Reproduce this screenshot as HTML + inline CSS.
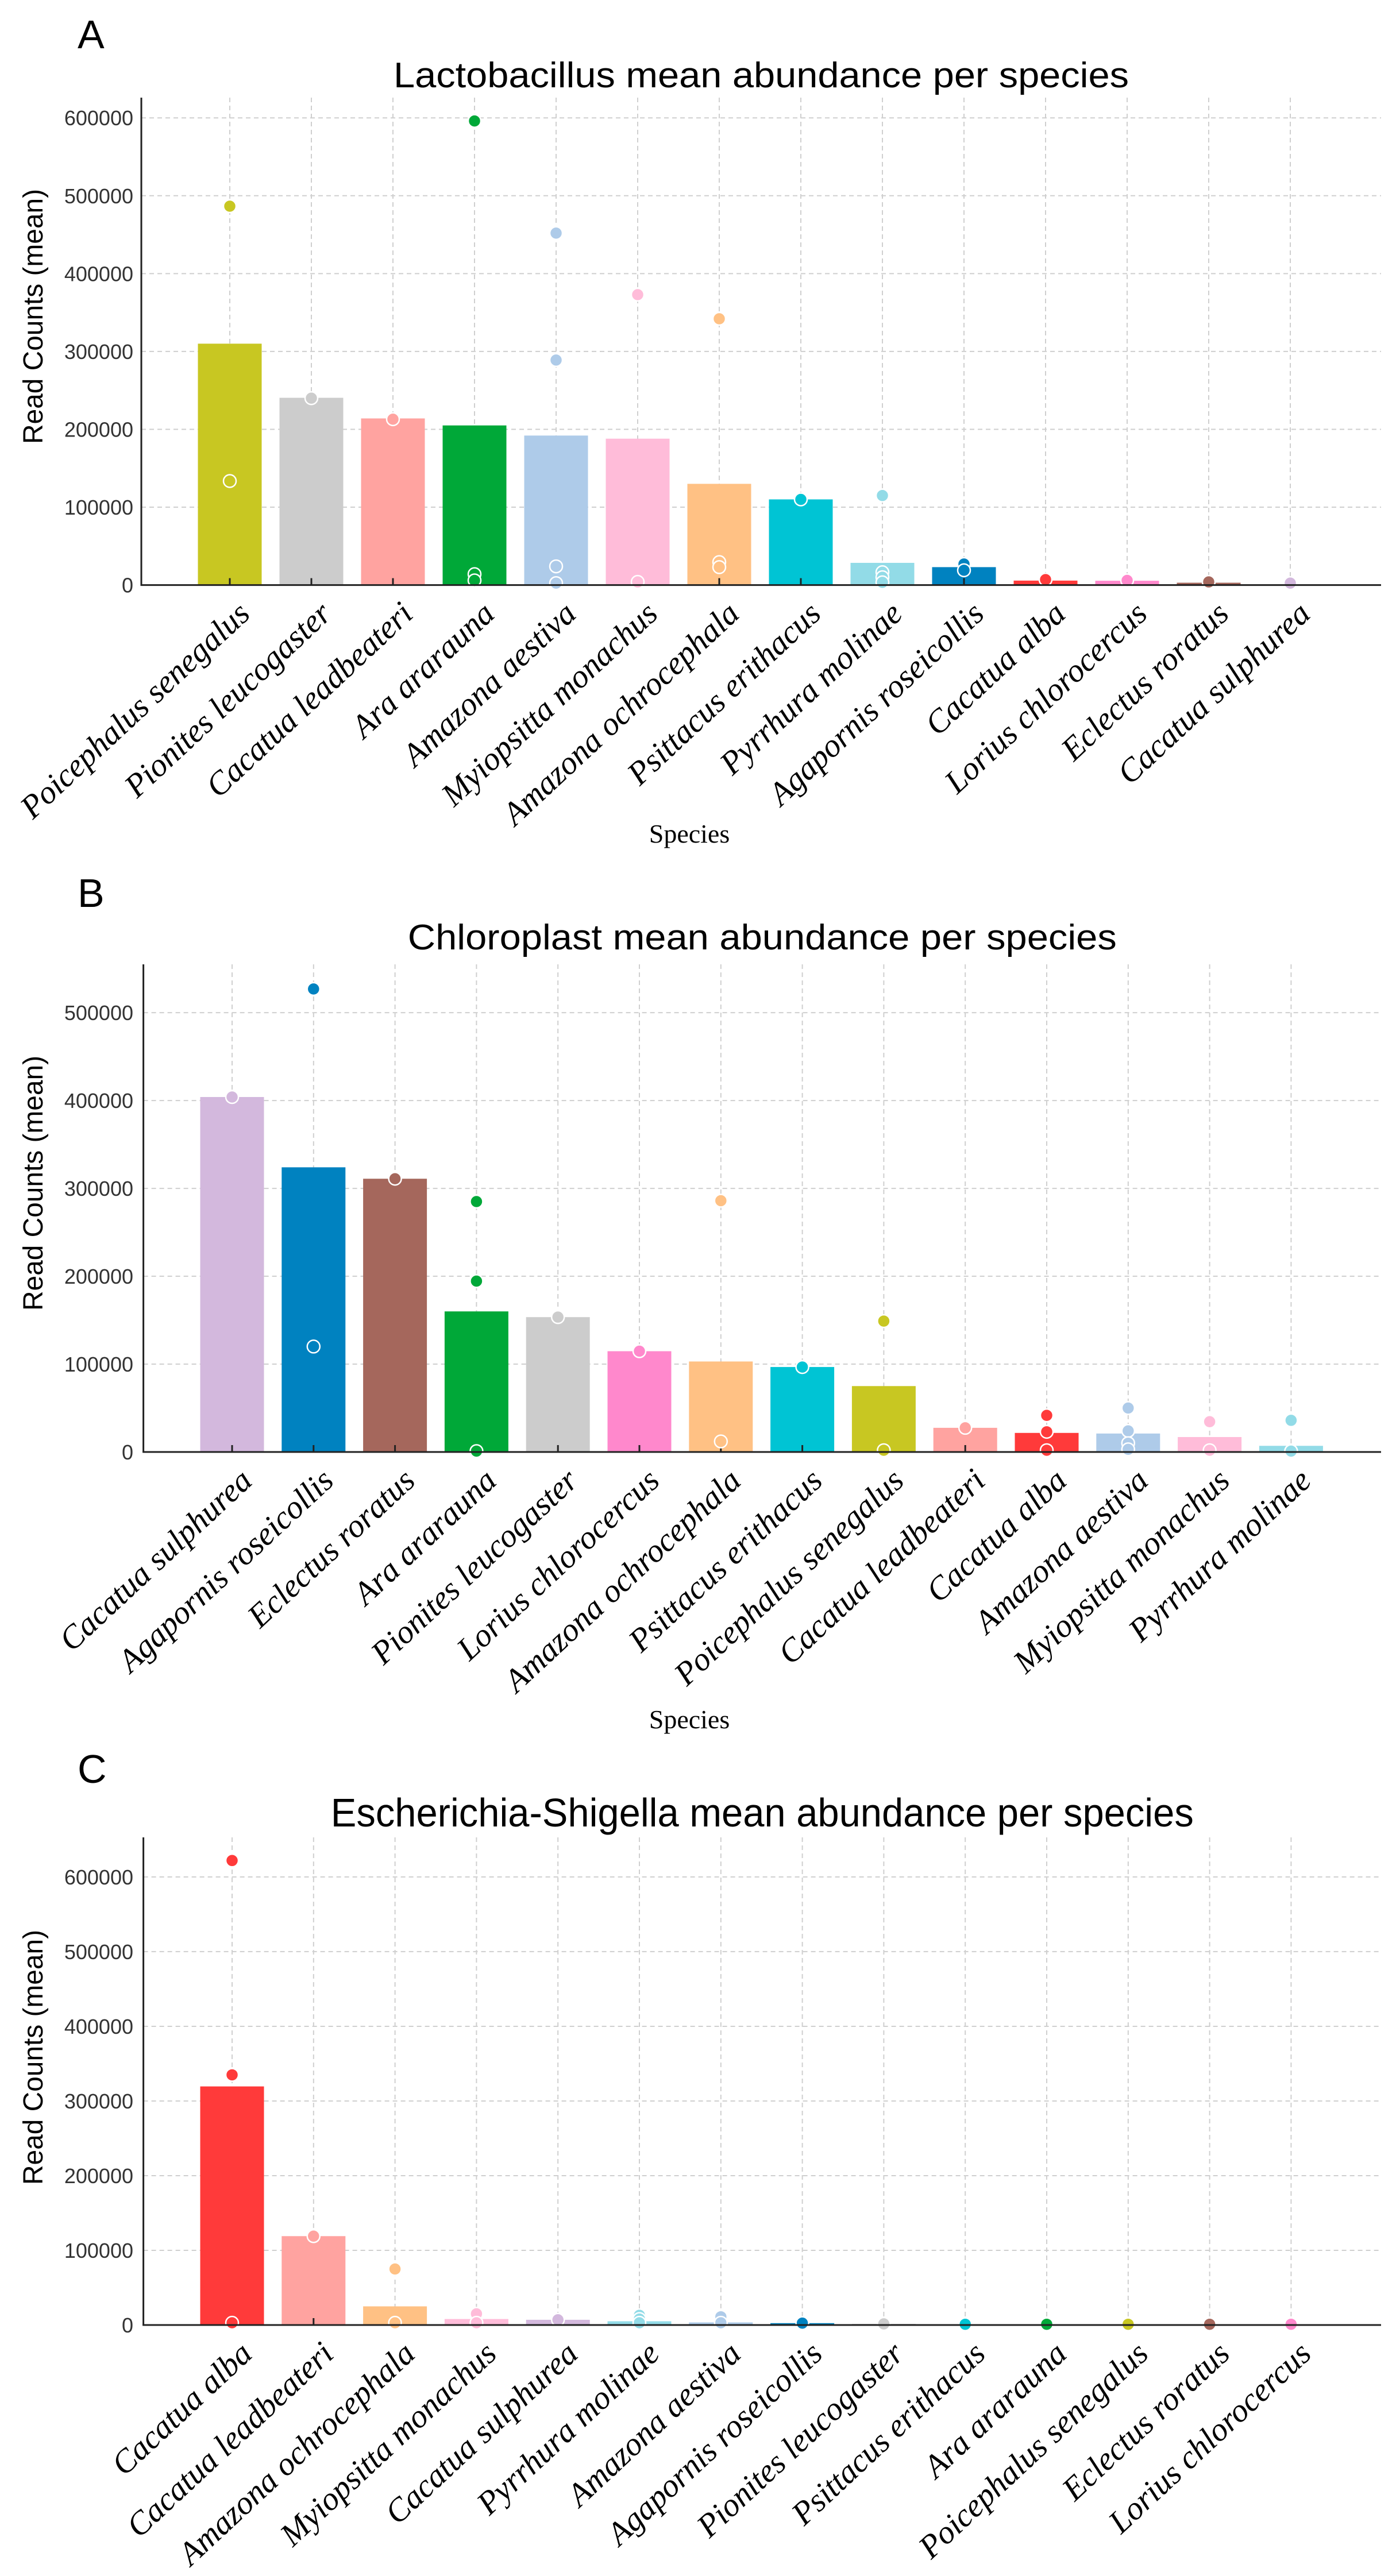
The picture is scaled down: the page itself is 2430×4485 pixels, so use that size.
<!DOCTYPE html>
<html><head><meta charset="utf-8"><style>
html,body{margin:0;padding:0;background:#fff;}
svg{display:block;}
</style></head><body>
<svg id="fig" xmlns="http://www.w3.org/2000/svg" width="2430" height="4485" viewBox="0 0 2430 4485">
<rect width="2430" height="4485" fill="#fff"/>
</svg>
<script>
const catsA = ["Poicephalus senegalus","Pionites leucogaster","Cacatua leadbeateri","Ara ararauna","Amazona aestiva","Myiopsitta monachus","Amazona ochrocephala","Psittacus erithacus","Pyrrhura molinae","Agapornis roseicollis","Cacatua alba","Lorius chlorocercus","Eclectus roratus","Cacatua sulphurea"];
const meansA = [310000,240500,214000,205000,192000,188000,130000,110000,28500,23000,5700,5500,3000,500];
const samplesA = [[486600,133600],[240000],[213000],[596000,14000,6000],[452000,289000,24000,2500],[373000,4000],[342000,29500,23000],[110000],[115000,16500,10000,3500],[27000,19000],[7000],[6000],[4000],[2500]];
const ticksA = [0,100000,200000,300000,400000,500000,600000];

const catsB = ["Cacatua sulphurea","Agapornis roseicollis","Eclectus roratus","Ara ararauna","Pionites leucogaster","Lorius chlorocercus","Amazona ochrocephala","Psittacus erithacus","Poicephalus senegalus","Cacatua leadbeateri","Cacatua alba","Amazona aestiva","Myiopsitta monachus","Pyrrhura molinae"];
const meansB = [404000,324000,311000,160000,153500,114700,103000,96700,75000,27500,21700,21000,17000,7000];
const samplesB = [[404000],[527000,120000],[311000],[285000,194500,1000],[153500],[114700],[286000,12000],[96700],[149000,2000],[27500],[41700,23000,2000],[50000,24000,10000,3000],[34500,2000],[36000,1000]];
const ticksB = [0,100000,200000,300000,400000,500000];

const catsC = ["Cacatua alba","Cacatua leadbeateri","Amazona ochrocephala","Myiopsitta monachus","Cacatua sulphurea","Pyrrhura molinae","Amazona aestiva","Agapornis roseicollis","Pionites leucogaster","Psittacus erithacus","Ara ararauna","Poicephalus senegalus","Eclectus roratus","Lorius chlorocercus"];
const meansC = [319500,119000,25000,8000,7000,5000,3500,2500,1500,500,500,500,800,500];
const samplesC = [[622000,335000,3000],[119000],[75000,3000],[15000,3000],[7000],[13000,8000,3000],[11000,3000],[2500],[1500],[1000],[1000],[1000],[1000],[1000]];
const ticksC = [0,100000,200000,300000,400000,500000,600000];

const colors = {
 "Poicephalus senegalus":"#c8c722","Pionites leucogaster":"#cccccc","Cacatua leadbeateri":"#ffa3a0",
 "Ara ararauna":"#00a838","Amazona aestiva":"#aecbe9","Myiopsitta monachus":"#ffbcd9",
 "Amazona ochrocephala":"#ffc184","Psittacus erithacus":"#00c4d4","Pyrrhura molinae":"#92dbe7",
 "Agapornis roseicollis":"#0082c0","Cacatua alba":"#ff3a3a","Lorius chlorocercus":"#ff88cc",
 "Eclectus roratus":"#a5675c","Cacatua sulphurea":"#d3b8dd"
};

const NS = "http://www.w3.org/2000/svg";
const fig = document.getElementById('fig');
function mk(tag, attrs, parent){
  const e = document.createElementNS(NS, tag);
  for (const k in attrs) e.setAttribute(k, attrs[k]);
  (parent||fig).appendChild(e);
  return e;
}

function drawPanel(cfg){
  const g = mk('g', {});
  
  
  const L = cfg.left, R = 2404, T = cfg.top, B = cfg.bottom;
  const y = v => B - (v / cfg.ymax) * (B - T);
  const x = i => cfg.x0 + i * cfg.step;

  const lt = mk('text', {x:135, y:cfg.letterY, 'font-family':'Liberation Sans, sans-serif', 'font-size':70, fill:'#000'}, g);
  lt.textContent = cfg.letter;
  
  

  const tt = mk('text', {x:(L+R)/2, y:cfg.titleY, 'text-anchor':'middle', 'font-family':'Liberation Sans, sans-serif', 'font-size':cfg.titleSize, fill:'#000', textLength:cfg.titleLen, lengthAdjust:'spacingAndGlyphs'}, g);
  tt.textContent = cfg.title;
  
  

  cfg.ticks.forEach(t => {
    const ln = mk('line', {x1:L, x2:R, y1:y(t), y2:y(t), stroke:'#cfcfcf', 'stroke-width':2, 'stroke-dasharray':'8,6'}, g);
    
    
  });
  cfg.cats.forEach((c,i) => {
    const ln = mk('line', {x1:x(i), x2:x(i), y1:T, y2:B, stroke:'#cfcfcf', 'stroke-width':2, 'stroke-dasharray':'8,6'}, g);
    
    
  });

  cfg.cats.forEach((c,i) => {
    const v = cfg.means[i];
    const r = mk('rect', {x:x(i)-55.5, y:y(v), width:111, height:B-y(v), fill:colors[c]}, g);
    
    
  });
  cfg.cats.forEach((c,i) => {
    const tk = mk('line', {x1:x(i), x2:x(i), y1:B, y2:B-12, stroke:'#222', 'stroke-width':3}, g);
    
    
  });
  cfg.cats.forEach((c,i) => {
    cfg.samples[i].forEach(v => {
      const d = mk('circle', {cx:x(i), cy:y(v), r:11, fill:colors[c], stroke:'#fff', 'stroke-width':2.5}, g);
      
      
    });
  });

  const ax = mk('line', {x1:L, x2:L, y1:T, y2:B, stroke:'#222', 'stroke-width':3}, g);
  
  
  const bx = mk('line', {x1:L-1.5, x2:R, y1:B, y2:B, stroke:'#222', 'stroke-width':3}, g);
  
  

  cfg.ticks.forEach(t => {
    const tl = mk('text', {x:232, y:y(t)+13, 'text-anchor':'end', 'font-family':'Liberation Sans, sans-serif', 'font-size':36, fill:'#333'}, g);
    tl.textContent = String(t);
    
    
  });

  const yt = mk('text', {x:0, y:0, transform:'translate(74,' + cfg.yLabelY + ') rotate(-90)', 'text-anchor':'middle', 'font-family':'Liberation Sans, sans-serif', 'font-size':48, fill:'#000', textLength:444, lengthAdjust:'spacingAndGlyphs'}, g);
  yt.textContent = 'Read Counts (mean)';
  
  

  cfg.cats.forEach((c,i) => {
    const tx = mk('text', {x:0, y:0, transform:'translate(' + (x(i)+10) + ',' + (B+24) + ') rotate(-43)', 'text-anchor':'end', dy:'0.72em', 'font-family':'Liberation Serif, serif', 'font-style':'italic', 'font-size':57, fill:'#000'}, g);
    tx.textContent = c;
    
    
  });

  if (cfg.xTitleY) {
    const xt = mk('text', {x:1200, y:cfg.xTitleY, 'text-anchor':'middle', 'font-family':'Liberation Serif, serif', 'font-size':46, fill:'#000'}, g);
    xt.textContent = 'Species';
    
    
  }
}

drawPanel({id:'lactobacillus', letter:'A', letterY:84, title:'Lactobacillus mean abundance per species', titleY:152, titleSize:62, titleLen:1280,
  cats:catsA, means:meansA, samples:samplesA, ticks:ticksA, ymax:626000, top:170, bottom:1018.6, left:246, x0:400, step:142.0,
  yLabelY:551, xTitleY:1467});
drawPanel({id:'chloroplast', letter:'B', letterY:1579, title:'Chloroplast mean abundance per species', titleY:1653, titleSize:62, titleLen:1234,
  cats:catsB, means:meansB, samples:samplesB, ticks:ticksB, ymax:555000, top:1679, bottom:2528, left:249.6, x0:404, step:141.8,
  yLabelY:2060, xTitleY:3009});
drawPanel({id:'escherichia', letter:'C', letterY:3104, title:'Escherichia-Shigella mean abundance per species', titleY:3180, titleSize:70, titleLen:1502,
  cats:catsC, means:meansC, samples:samplesC, ticks:ticksC, ymax:653000, top:3199, bottom:4048, left:249.6, x0:404, step:141.8,
  yLabelY:3582, xTitleY:0});
</script>
</body></html>
